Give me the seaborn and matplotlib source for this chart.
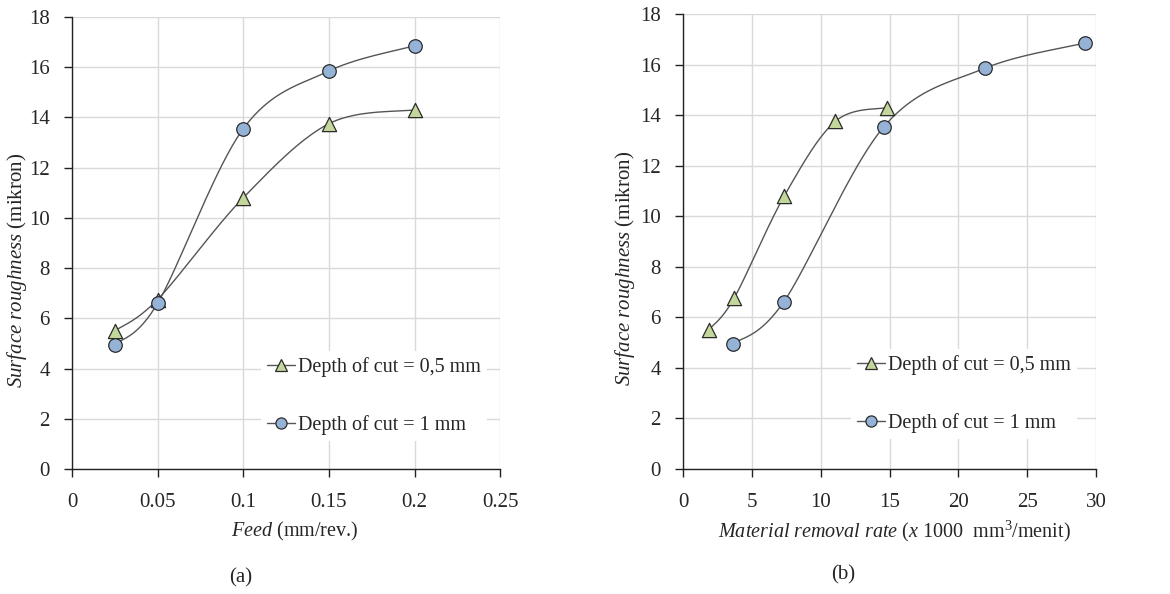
import numpy as np
import pandas as pd
import matplotlib
matplotlib.use('Agg')
import matplotlib.pyplot as plt
import seaborn as sns
from matplotlib.lines import Line2D

# --- data ---
feed = [0.025, 0.05, 0.1, 0.15, 0.2]
ra_05 = [5.5, 6.75, 10.8, 13.75, 14.3]
ra_10 = [4.95, 6.6, 13.55, 15.85, 16.85]
mrr_05 = [1.85, 3.7, 7.35, 11.05, 14.8]
mrr_10 = [3.65, 7.3, 14.6, 21.9, 29.2]
lab_05 = 'Depth of cut = 0,5 mm'
lab_10 = 'Depth of cut = 1 mm'

sns.set_theme(style='whitegrid')
plt.rcParams['font.family'] = ['Liberation Serif', 'DejaVu Serif']
plt.rcParams['mathtext.fontset'] = 'custom'
plt.rcParams['mathtext.rm'] = 'Liberation Serif'
plt.rcParams['mathtext.it'] = 'Liberation Serif:italic'

green = '#c3d69b'
blue = '#95b3d7'
edge = '#2b2b2b'
line_c = '#555555'


def smooth(x, y, xr, yr, n=40):
    # excel-like smoothed line (catmull-rom as bezier), done in axes units
    px = np.asarray(x, float) / xr
    py = np.asarray(y, float) / yr
    P = np.column_stack([px, py])
    P = np.vstack([P[0], P, P[-1]])
    t = np.linspace(0, 1, n)[:, None]
    out = []
    for i in range(1, len(P) - 2):
        p0, p3 = P[i], P[i + 1]
        c1 = p0 + (P[i + 1] - P[i - 1]) / 6
        c2 = p3 - (P[i + 2] - P[i]) / 6
        seg = ((1 - t) ** 3) * p0 + 3 * (1 - t) ** 2 * t * c1 + 3 * (1 - t) * t ** 2 * c2 + t ** 3 * p3
        out.append(seg)
    out = np.vstack(out)
    return out[:, 0] * xr, out[:, 1] * yr


def panel(ax, x05, x10, xmax, xstep, xlabel, xl_pos, yl_pos, leg_pos):
    for xs, ys in [(x05, ra_05), (x10, ra_10)]:
        sx, sy = smooth(xs, ys, xmax, 18)
        ax.plot(sx, sy, color=line_c, lw=1.0, zorder=3)
    df05 = pd.DataFrame({'x': x05, 'y': ra_05})
    df10 = pd.DataFrame({'x': x10, 'y': ra_10})
    sns.scatterplot(data=df05, x='x', y='y', ax=ax, marker='^', s=105, color=green,
                    edgecolor=edge, linewidth=0.9, zorder=4)
    sns.scatterplot(data=df10, x='x', y='y', ax=ax, marker='o', s=95, color=blue,
                    edgecolor=edge, linewidth=0.9, zorder=4)
    ax.set_xlim(0, xmax)
    ax.set_ylim(0, 18)
    xt = np.arange(0, xmax + xstep / 2, xstep)
    ax.set_xticks(xt)
    ax.set_xticklabels([('%g' % round(v, 3)) for v in xt])
    ax.set_yticks(range(0, 19, 2))
    ax.grid(True, color='#d9d9d9', lw=1.0)
    ax.set_facecolor('white')
    for s in ['top', 'right']:
        ax.spines[s].set_visible(False)
    for s in ['left', 'bottom']:
        ax.spines[s].set_color('#222222')
        ax.spines[s].set_linewidth(1.0)
    ax.tick_params(axis='both', which='both', length=6, width=1, color='#222222',
                   labelsize=15, direction='out', bottom=True, left=True)
    ax.tick_params(axis='x', pad=11)
    ax.tick_params(axis='y', pad=10)
    ax.set_xlabel(xlabel, fontsize=14.5)
    ax.xaxis.label.set_va('center')
    ax.xaxis.set_label_coords(*xl_pos)
    ax.set_ylabel(r'$\it{Surface\ roughness}$ (mikron)', fontsize=15)
    ax.yaxis.label.set_va('center')
    ax.yaxis.set_label_coords(*yl_pos)
    handles = [
        Line2D([], [], color=line_c, lw=1.0, marker='^', markersize=8.5,
               markerfacecolor=green, markeredgecolor=edge, markeredgewidth=0.9),
        Line2D([], [], color=line_c, lw=1.0, marker='o', markersize=8,
               markerfacecolor=blue, markeredgecolor=edge, markeredgewidth=0.9),
    ]
    leg = ax.legend(handles, [lab_05, lab_10], loc='center left', bbox_to_anchor=leg_pos,
                    borderaxespad=0, frameon=True, fontsize=14.5, labelspacing=1.9,
                    handlelength=1.4, handletextpad=0.15, borderpad=0.3, framealpha=1.0)
    leg.get_frame().set_edgecolor('white')
    leg.get_frame().set_linewidth(0)


fig = plt.figure(figsize=(11.7, 5.94), dpi=100)
ax1 = fig.add_axes([0.0615, 0.2104, 0.366, 0.761])
ax2 = fig.add_axes([0.5838, 0.2104, 0.353, 0.766])

panel(ax1, feed, feed, 0.25, 0.05, r'$\it{Feed}$ (mm/rev.)',
      (0.52, -0.139), (-0.128, 0.44), (0.4416, 0.162))
panel(ax2, mrr_05, mrr_10, 30, 5,
      r'$\it{Material\ removal\ rate}$ ($\it{x}$ 1000  mm$^3$/menit)',
      (0.512, -0.136), (-0.14, 0.44), (0.407, 0.164))

fig.text(241 / 1170, 1 - 578 / 594, '(a)', ha='center', va='center', fontsize=15)
fig.text(843 / 1170, 1 - 575 / 594, '(b)', ha='center', va='center', fontsize=15)

fig.savefig('out.png', dpi=100, facecolor='white')
